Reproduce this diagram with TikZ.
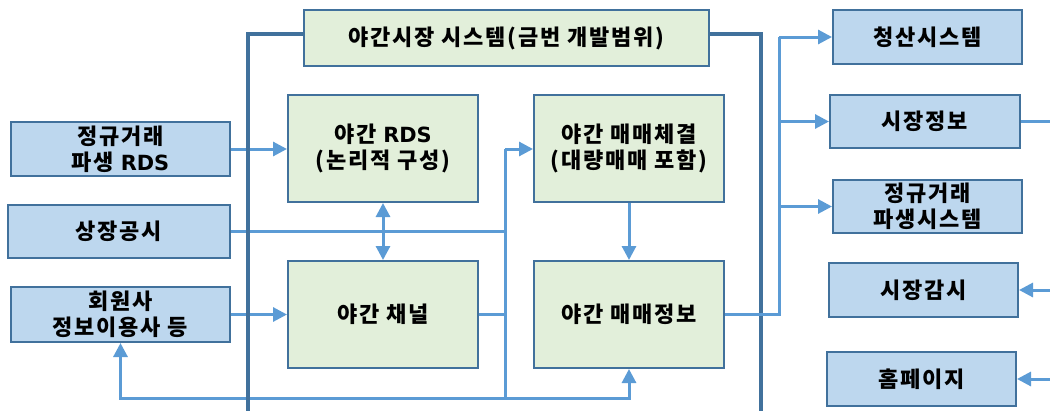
\documentclass[tikz,border=0pt]{standalone}
\usepackage{fontspec}
\setmainfont{Noto Sans CJK KR}[LetterSpace=8]
\newfontfamily\latfont{DejaVu Sans}[Scale=0.95]
\usetikzlibrary{arrows.meta}
\definecolor{bfill}{HTML}{BDD7EE}
\definecolor{gfill}{HTML}{E2EFDA}
\definecolor{edge}{HTML}{41719C}
\definecolor{conn}{HTML}{5B9BD5}
\tikzset{
  bbox/.style={draw=edge,line width=2pt,fill=bfill,font=\fontsize{22}{26}\selectfont\bfseries,align=center,inner sep=0pt},
  gbox/.style={draw=edge,line width=2pt,fill=gfill,font=\fontsize{22}{26}\selectfont\bfseries,align=center,inner sep=0pt},
  cline/.style={draw=conn,line width=3pt},
  carr/.style={cline,-{Triangle[length=14pt,width=14pt]}},
  darr/.style={cline,{Triangle[length=14pt,width=14pt]}-{Triangle[length=14pt,width=14pt]}},
  frame/.style={draw=edge,line width=4pt},
}
\begin{document}
\begin{tikzpicture}[x=1pt,y=-1pt]
\useasboundingbox (0,0) rectangle (1050,410);
\begin{scope}
\clip (0,0) rectangle (1050,410);
% left boxes
\node[bbox,minimum width=219pt,minimum height=54pt] (L1) at (120.5,149) {정규거래\\파생 {\latfont RDS}};
\node[bbox,minimum width=222pt,minimum height=53pt] (L2) at (119,231.5) {상장공시};
\node[bbox,minimum width=219pt,minimum height=55pt] (L3) at (120.5,314.5) {회원사\\정보이용사 등};
% title and inner boxes
\node[gbox,minimum width=405pt,minimum height=56pt] (T) at (506.5,38) {야간시장 시스템(금번 개발범위)};
\node[gbox,minimum width=190pt,minimum height=107pt] (RDS) at (383,148.5) {야간 {\latfont RDS}\\(논리적 구성)};
\node[gbox,minimum width=190pt,minimum height=107pt] (CH) at (383,314.5) {야간 채널};
\node[gbox,minimum width=190pt,minimum height=107pt] (TR) at (629,148.5) {야간 매매체결\\(대량매매 포함)};
\node[gbox,minimum width=190pt,minimum height=107pt] (TI) at (629,314.5) {야간 매매정보};
% right boxes
\node[bbox,minimum width=189pt,minimum height=54pt] (R1) at (927.5,37) {청산시스템};
\node[bbox,minimum width=190pt,minimum height=53pt] (R2) at (925,121.5) {시장정보};
\node[bbox,minimum width=189pt,minimum height=53pt] (R3) at (927.5,206.5) {정규거래\\파생시스템};
\node[bbox,minimum width=189pt,minimum height=54pt] (R4) at (923.5,290) {시장감시};
\node[bbox,minimum width=189pt,minimum height=54pt] (R5) at (921.5,379) {홈페이지};
% junction coordinates
\coordinate (J1) at (505,149);
\coordinate (J2) at (505,398);
\coordinate (K1) at (779,37);
\coordinate (K2) at (779,314.5);
\coordinate (E2) at (1052,121.5);
\coordinate (E4) at (1052,290);
\coordinate (E5) at (1052,379);
% connectors (left side)
\draw[carr] (L1.east) -- (L1.east -| RDS.west);
\draw[carr] (L3.east) -- (L3.east -| CH.west);
\draw[darr] (RDS.south) -- (CH.north);
\draw[cline] (L2.east) -- (L2.east -| J1);
\draw[cline] (CH.east) -- (CH.east -| J1);
\draw[cline] (J2) -- (J1);
\draw[carr] (J1) -- (TR.west |- J1);
\draw[carr] (J2) -- (L3.south |- J2) -- (L3.south);
\draw[carr] (J2) -- (TI.south |- J2) -- (TI.south);
\draw[carr] (TR.south) -- (TI.north);
% frame
\draw[frame] (T.west |- 0,34) -- (248,34) -- (248,420);
\draw[frame] (T.east |- 0,34) -- (761,34) -- (761,420);
% connectors (right side)
\draw[cline] (TI.east) -- (K2) -- (K1);
\draw[carr] (K1) -- (R1.west);
\draw[carr] (K1 |- R2.west) -- (R2.west);
\draw[carr] (K1 |- R3.west) -- (R3.west);
\draw[cline] (R2.east) -- (E2);
\draw[carr] (E4) -- (R4.east);
\draw[carr] (E5) -- (R5.east);
\end{scope}
\end{tikzpicture}
\end{document}
